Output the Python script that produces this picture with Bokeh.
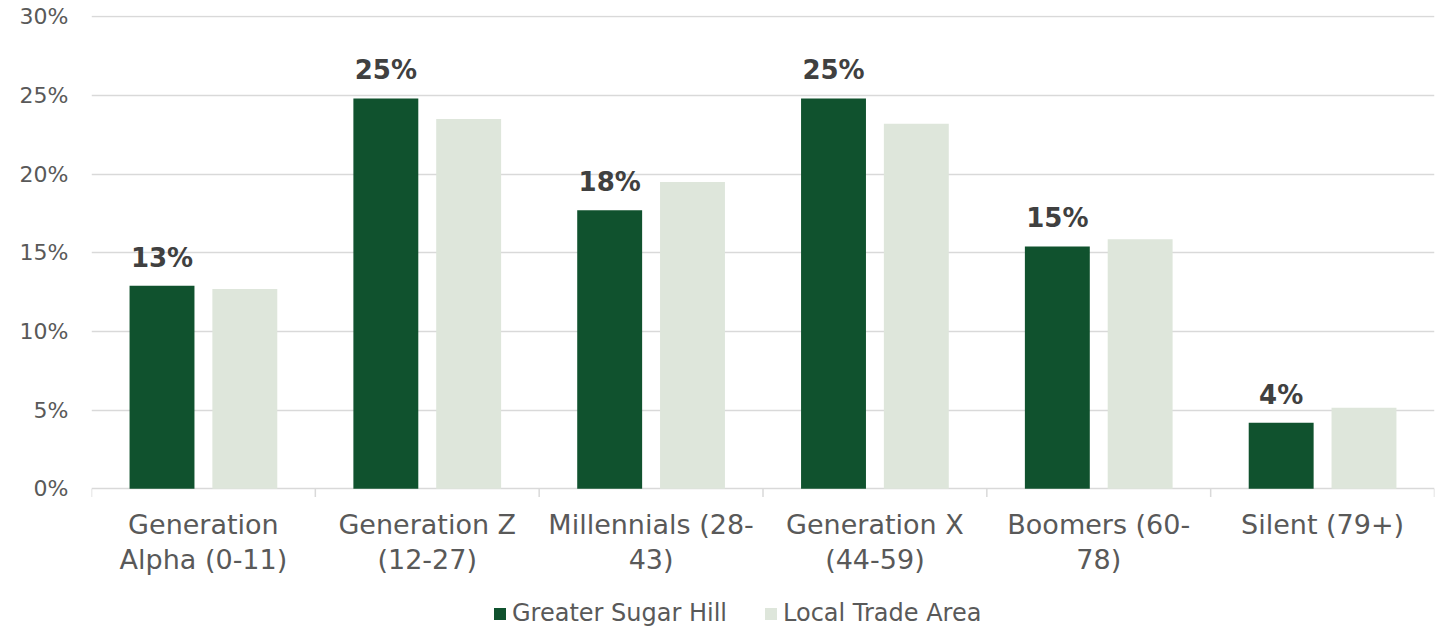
from bokeh.plotting import figure
from bokeh.models import (ColumnDataSource, Range1d, FixedTicker,
                          Legend, LegendItem, CustomJSTickFormatter)
from bokeh.transform import dodge
from bokeh.core.properties import value
from bokeh.embed import file_html
from bokeh.resources import INLINE

categories = ["Generation\nAlpha (0-11)", "Generation Z\n(12-27)", "Millennials (28-\n43)",
              "Generation X\n(44-59)", "Boomers (60-\n78)", "Silent (79+)"]
greater_sugar_hill = [12.9, 24.8, 17.7, 24.8, 15.4, 4.2]
local_trade_area = [12.7, 23.5, 19.5, 23.2, 15.85, 5.15]
y_ticks = [0, 5, 10, 15, 20, 25, 30]

FONT = "DejaVu Sans"
DARK = "#10522E"
LIGHT = "#DEE6DB"
GRID = "#D9D9D9"
TXT = "#595959"

n = len(categories)
idx = list(range(n))
src = ColumnDataSource(dict(
    xc=[i + 0.5 for i in idx],
    cat=categories,
    gsh=greater_sugar_hill,
    lta=local_trade_area,
    lab=[f"{v:.0f}%" for v in greater_sugar_hill],
))
bounds = ColumnDataSource(dict(xb=list(range(n + 1)), y0=[0] * (n + 1)))

p = figure(frame_width=1343, frame_height=615, x_range=Range1d(0, n), y_range=Range1d(-9.0, 30.07),
           output_backend="svg", toolbar_location=None, x_axis_location=None,
           min_border_left=91, min_border_right=1, min_border_top=15, min_border_bottom=0)
p.outline_line_color = None
p.background_fill_color = "white"
p.border_fill_color = "white"

ya = p.yaxis[0]
ya.ticker = FixedTicker(ticks=y_ticks)
ya.formatter = CustomJSTickFormatter(code="return tick.toFixed(0) + '%';")
ya.axis_line_color = None
ya.major_tick_line_color = None
ya.minor_tick_line_color = None
ya.major_label_text_font = FONT
ya.major_label_text_font_size = "22px"
ya.major_label_text_color = TXT
ya.major_label_standoff = 17

p.xgrid.grid_line_color = None
p.ygrid.ticker = FixedTicker(ticks=y_ticks)
p.ygrid.grid_line_color = GRID
p.ygrid.grid_line_width = 1.5

# category boundary ticks below the baseline
p.segment(x0="xb", y0="y0", x1="xb", y1=-0.52, source=bounds, line_color=GRID, line_width=1.5)

r1 = p.vbar(x=dodge("xc", -0.185), top="gsh", width=0.29, source=src, fill_color=DARK, line_color=None)
r2 = p.vbar(x=dodge("xc", 0.185), top="lta", width=0.29, source=src, fill_color=LIGHT, line_color=None)

p.text(x=dodge("xc", -0.185), y="gsh", text="lab", source=src,
       text_align="center", text_baseline="bottom", y_offset=-13,
       text_font=value(FONT), text_font_size="26px", text_font_style="bold", text_color="#404040")

# category labels (x-axis)
p.text(x="xc", y=0, text="cat", source=src, text_align="center", text_baseline="top", y_offset=20,
       text_font=value(FONT), text_font_size="27px", text_color=TXT, text_line_height=1.12)

legend = Legend(items=[LegendItem(label="Greater Sugar Hill", renderers=[r1]),
                       LegendItem(label="Local Trade Area", renderers=[r2])],
                orientation="horizontal", location=(401, 3))
legend.label_text_font = FONT
legend.label_text_font_size = "24px"
legend.label_text_color = TXT
legend.label_height = 24
legend.glyph_width = 15
legend.glyph_height = 15
legend.label_standoff = 5
legend.spacing = 36
legend.padding = 2
legend.margin = 0
legend.border_line_color = None
legend.background_fill_alpha = 0
p.add_layout(legend, "center")

open("out.html", "w").write(file_html(p, INLINE))
